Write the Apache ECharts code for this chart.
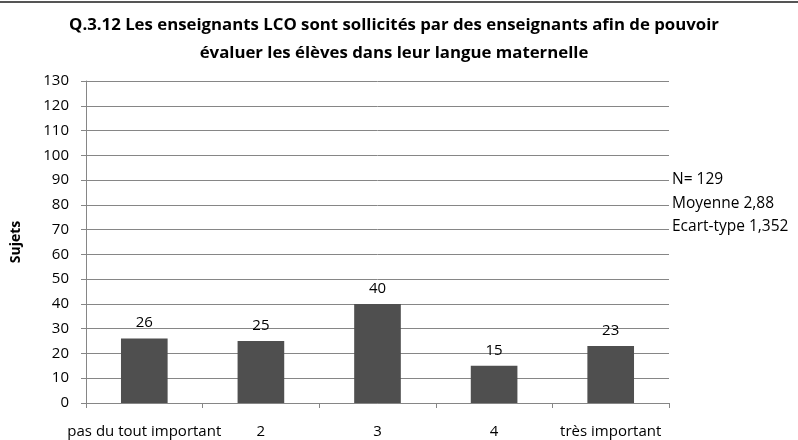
<!DOCTYPE html>
<html>
<head>
<meta charset="utf-8">
<script src="https://cdn.jsdelivr.net/npm/echarts@6/dist/echarts.min.js"></script>
<style>
  html, body { margin: 0; padding: 0; background: #fff; }
  #chart { width: 798px; height: 440px; }
</style>
</head>
<body>
<div id="chart"></div>
<script>
// donnees du graphique
var categories = ['pas du tout important', '2', '3', '4', 'très important'];
var sujets = [26, 25, 40, 15, 23];
var statLines = ['N= 129', 'Moyenne 2,88', 'Ecart-type 1,352'];
var titleText = 'Q.3.12 Les enseignants LCO sont sollicités par des enseignants afin de pouvoir\névaluer les élèves dans leur langue maternelle';

var font = 'Open Sans';
var chart = echarts.init(document.getElementById('chart'), null, {renderer: 'canvas'});

chart.setOption({
  animation: false,
  backgroundColor: '#fff',
  title: {
    text: titleText,
    left: 389, top: 6, textAlign: 'center',
    textStyle: {fontFamily: font, fontWeight: 'bold', fontSize: 16.8, lineHeight: 28, color: '#000'}
  },
  grid: {left: 86, right: 129, top: 81, bottom: 37, containLabel: false},
  xAxis: {
    type: 'category',
    data: categories,
    axisLine: {lineStyle: {color: '#868686'}},
    axisTick: {show: true, length: 5, alignWithLabel: false, lineStyle: {color: '#868686'}},
    axisLabel: {fontFamily: font, fontSize: 15, color: '#000', margin: 21, interval: 0}
  },
  yAxis: {
    type: 'value', min: 0, max: 130, interval: 10,
    name: 'Sujets', nameLocation: 'middle', nameGap: 63, nameRotate: 90,
    nameTextStyle: {fontFamily: font, fontWeight: 'bold', fontSize: 14, color: '#000'},
    axisLine: {show: true, lineStyle: {color: '#868686'}},
    axisTick: {show: true, length: 5, lineStyle: {color: '#868686'}},
    axisLabel: {fontFamily: font, fontSize: 15, color: '#000', margin: 17},
    splitLine: {lineStyle: {color: '#868686'}}
  },
  series: [{
    type: 'bar',
    data: sujets,
    barCategoryGap: '60%',
    itemStyle: {color: '#4f4f4f'},
    label: {show: true, position: 'top', distance: 8, fontFamily: font, fontSize: 15, color: '#000'}
  }],
  graphic: [
    {type: 'line', shape: {x1: 0, y1: 2, x2: 798, y2: 2}, style: {stroke: '#555', lineWidth: 2}},
    {type: 'text', left: 672, top: 168, style: {text: statLines.join('\n'), fontFamily: font, fontSize: 15.5, lineHeight: 23.5, fill: '#000'}}
  ]
});
</script>
</body>
</html>
